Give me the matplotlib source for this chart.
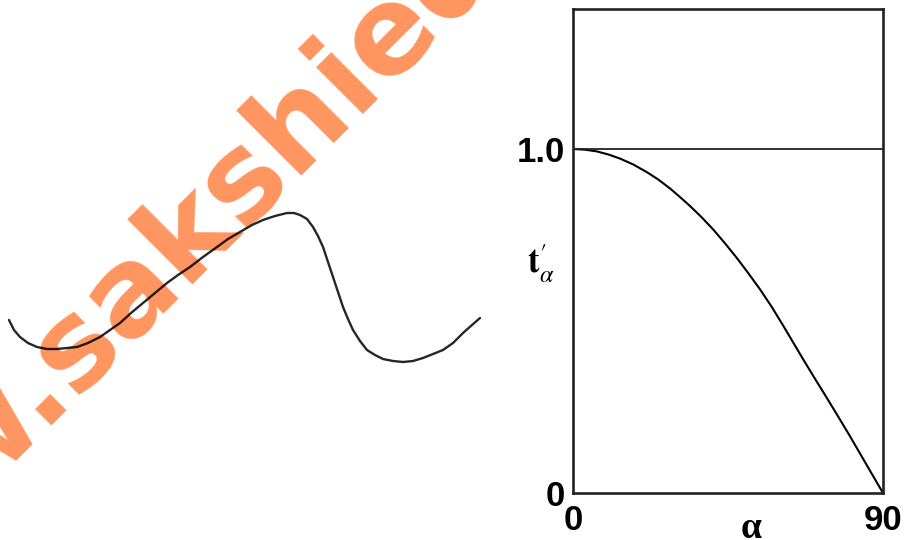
import matplotlib
matplotlib.use("Agg")
import matplotlib.pyplot as plt

# ---- data ----
# left decorative wave (panel units, y downward)
wave_x = [9, 14, 20, 28, 37, 47, 57, 67, 77, 88, 100, 110, 120, 131, 143, 155, 167, 178,
          190, 203, 217, 228, 240, 252, 263, 275, 287, 294, 300, 307, 313, 318, 323, 328,
          333, 338, 343, 348, 353, 360, 367, 375, 383, 393, 403, 413, 423, 433, 443, 453,
          463, 472, 480]
wave_y = [320, 330, 337, 343, 347, 349, 349, 348, 347, 343, 337, 330, 323, 313, 303, 293,
          283, 275, 267, 257, 247, 239, 232, 225, 220, 216, 213, 213, 215, 219, 227, 236,
          247, 262, 277, 292, 307, 319, 330, 341, 350, 355, 359, 361, 362, 361, 358, 354,
          350, 343, 333, 325, 318]

# right chart: t'_alpha versus alpha
alpha_deg = [0, 3.5, 6.95, 10.3, 13.7, 17.5, 21.4, 24.8, 28.2, 31.1, 34.0, 37.4, 40.8,
             44.2, 47.5, 50.9, 54.3, 57.7, 61.0, 63.9, 66.8, 70.2, 73.6, 77.0, 80.3,
             83.2, 86.1, 90]
t_alpha = [1.0, 0.998, 0.993, 0.984, 0.972, 0.955, 0.933, 0.911, 0.885, 0.860, 0.834,
           0.801, 0.765, 0.725, 0.684, 0.639, 0.592, 0.541, 0.487, 0.438, 0.389, 0.333,
           0.278, 0.222, 0.167, 0.117, 0.067, 0.0]
ref_level = 1.0
x_ticks = [0, 90]
x_ticklabels = ["0", "90"]
y_ticks = [0, 1.0]
y_ticklabels = ["0", "1.0"]
watermark = "www.sakshieducation.com"

W, H = 911, 540
fig = plt.figure(figsize=(W / 100, H / 100), dpi=100)

# ---- left panel: wave + watermark ----
axw = fig.add_axes([0, 0, 490 / W, 1])
axw.set_xlim(0, 490)
axw.set_ylim(540, 0)
axw.axis("off")
axw.plot(wave_x, wave_y, color="black", alpha=0.85, lw=1.7, zorder=5,
         solid_capstyle="round", solid_joinstyle="round")
axw.text(-192, 665, watermark, rotation=45, rotation_mode="anchor",
         ha="left", va="baseline", fontsize=88, fontweight="bold",
         family="DejaVu Sans", color="#FF955F", zorder=3, clip_on=False)

# ---- right panel ----
ax = fig.add_axes([573 / W, (H - 493) / H, 310 / W, 484 / H])
ax.plot(alpha_deg, t_alpha, color="black", lw=1.5, solid_joinstyle="round")
ax.axhline(ref_level, color="#222222", lw=1.3)
ax.set_xlim(0, 90)
ax.set_ylim(0, 1.407)
for s in ax.spines.values():
    s.set_linewidth(1.9)
    s.set_color("#222222")
ax.set_xticks(x_ticks)
ax.set_xticklabels(x_ticklabels, fontsize=25, fontweight="bold", family="Liberation Sans")
ax.set_yticks(y_ticks)
ax.set_yticklabels(y_ticklabels, fontsize=25, fontweight="bold", family="Liberation Sans")
ax.tick_params(axis="x", length=0, pad=8)
ax.tick_params(axis="y", length=0, pad=6)

plt.rcParams["mathtext.fontset"] = "stix"
fig.text(751 / W, 1 - 538 / H, "α", fontsize=27, ha="center", va="baseline",
         fontweight="bold", family="Liberation Serif", color="black")
fig.text(541 / W, 1 - 264 / H, r"$\mathbf{t}^{\prime}_{\alpha}$", fontsize=25,
         ha="center", va="center", color="black")

fig.savefig("out.png", dpi=100)
